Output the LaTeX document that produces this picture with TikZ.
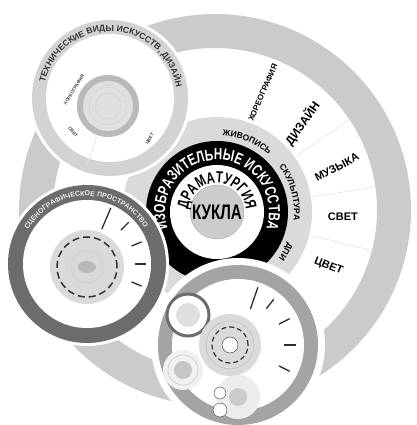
\documentclass[tikz,border=0pt]{standalone}
\usepackage{fontspec}
\setmainfont{Liberation Sans}
\newfontfamily\narrow{Liberation Sans}[FakeStretch=0.72]
\usetikzlibrary{decorations.text}

\definecolor{ringgray}{HTML}{CBCBCB}
\definecolor{palegray}{HTML}{DADADA}
\definecolor{midgray}{HTML}{A4A4A4}
\definecolor{ringdark}{HTML}{6C6C6C}

\tikzset{
  tick/.style={line width=1.3pt, gray!35!black},
  divider/.style={gray!22, line width=0.6pt},
  sector/.style={font=\bfseries\fontsize{#1}{#1}\selectfont},
  tiny/.style={font=\bfseries\fontsize{4.5}{4.5}\selectfont, gray!45!black},
}

\begin{document}
\begin{tikzpicture}[x=1pt,y=1pt]
    \useasboundingbox (0,0) rectangle (416,425);
    \coordinate (O) at (215,215);
    \coordinate (C) at (217,213);
    \coordinate (T) at (110,327);
    \coordinate (T2) at (108,319);
    \coordinate (L) at (87,161);
    \coordinate (L2) at (87,158);
    \coordinate (B) at (238,80);

    % outer ring
    \fill[ringgray, even odd rule] (O) circle[radius=196] (O) circle[radius=162];
    \foreach \a in {35,9,-14}
        \draw[divider] (C) ++(\a:96) -- ++(\a:66);
    \node[sector=8, rotate=66.5] (horeo) at ([shift={(69:128)}]C) {ХОРЕОГРАФИЯ};
    \node[sector=12, rotate=55] (dizain) at ([shift={(46:123)}]C) {ДИЗАЙН};
    \node[sector=11, rotate=28] (muzyka) at ([shift={(20.5:128)}]C) {МУЗЫКА};
    \node[sector=11] (svet) at ([shift={(-2:126)}]C) {СВЕТ};
    \node[sector=11, rotate=-22] (cvet) at ([shift={(-26:124)}]C) {ЦВЕТ};

    % centre
    \fill[palegray] (C) circle[radius=95];
    \fill[black] (C) circle[radius=71];
    \fill[white] (C) circle[radius=47];
    \draw[gray!70, fill=gray!40] (C) circle[radius=27];
    \path[decorate, decoration={text along path, text align=center, text color=white,
        text={|\narrow\bfseries\fontsize{16}{16}\selectfont|ИЗОБРАЗИТЕЛЬНЫЕ ИСКУССТВА}}]
        (C) ++(194:52) arc[start angle=194, end angle=-14, radius=52];
    \path[decorate, decoration={text along path, text align=center,
        text={|\narrow\bfseries\fontsize{16}{16}\selectfont|ДРАМАТУРГИЯ}}]
        (C) ++(182:29) arc[start angle=182, end angle=-2, radius=29];
    \node[font=\narrow\bfseries\fontsize{21}{21}\selectfont] (kukla) at (C) {КУКЛА};
    \path[decorate, decoration={text along path, text align=center,
        text={|\bfseries\fontsize{8.5}{8.5}\selectfont|ЖИВОПИСЬ}}]
        (C) ++(88:77) arc[start angle=88, end angle=46, radius=77];
    \path[decorate, decoration={text along path, text align=center,
        text={|\bfseries\fontsize{8.5}{8.5}\selectfont|СКУЛЬПТУРА}}]
        (C) ++(42:77) arc[start angle=42, end angle=-12, radius=77];
    \path[decorate, decoration={text along path, text align=center,
        text={|\bfseries\fontsize{8.5}{8.5}\selectfont|ДПИ}}]
        (C) ++(-20:77) arc[start angle=-20, end angle=-40, radius=77];

    % top left circle
    \fill[white] (T) circle[radius=81];
    \fill[ringgray!85] (T) circle[radius=78];
    \fill[white] (T) circle[radius=64];
    \path[decorate, decoration={text along path, text align=center, text color=gray!40!black,
        text={|\bfseries\fontsize{8.6}{8.6}\selectfont|ТЕХНИЧЕСКИЕ ВИДЫ ИСКУССТВ, ДИЗАЙН}}]
        (T) ++(178:67) arc[start angle=178, end angle=-2, radius=67];
    \draw[divider] (T2) ++(-110:32) -- ++(-110:31);
    \fill[gray!55] (T2) circle[radius=31];
    \fill[gray!25] (T2) circle[radius=25];
    \draw[gray!60, densely dotted] (T2) circle[radius=19] (T2) circle[radius=13];
    \node[tiny, rotate=58] (t-horeo) at (74,335) {ХОРЕОГРАФИЯ};
    \node[tiny, rotate=-50] (t-svet) at (73,293) {СВЕТ};
    \node[tiny, rotate=60] (t-cvet) at (150,286) {ЦВЕТ};

    % left circle
    \fill[white] (L) circle[radius=82];
    \fill[ringdark] (L) circle[radius=79];
    \fill[white] (L) circle[radius=64];
    \path[decorate, decoration={text along path, text align=center, text color=gray!15,
        text={|\bfseries\fontsize{7}{7}\selectfont|СЦЕНОГРАФИЧЕСКОЕ ПРОСТРАНСТВО}}]
        (L) ++(150:68) arc[start angle=150, end angle=32, radius=68];
    \draw[tick] (L) ++(67:38) -- ++(67:23);
    \foreach \a in {45,22,0,-22}
        \draw[tick] (L) ++(\a:48) -- ++(\a:11);
    \fill[palegray] (L2) circle[radius=37];
    \draw[gray!40!black, line width=1.5pt, dash pattern=on 7pt off 4pt] (L2) circle[radius=30];
    \fill[gray!30] (L2) circle[radius=22];
    \draw[gray!60, densely dotted] (L2) circle[radius=16];
    \fill[gray!55] (L2) ellipse[x radius=9, y radius=6];

    % bottom circle
    \fill[white] (B) circle[radius=87];
    \fill[midgray] (B) circle[radius=80];
    \fill[white] (B) circle[radius=66];
    \draw[tick] (B) ++(71:38) -- ++(71:23);
    \foreach \a in {52,27,0,-27}
        \draw[tick] (B) ++(\a:46) -- ++(\a:12);
    \draw[ringdark, line width=3pt, fill=white] (188,110) circle[radius=21];
    \fill[gray!25] (188,110) circle[radius=12];
    \fill[palegray] (230,80) circle[radius=31];
    \draw[gray!55] (230,80) circle[radius=24];
    \draw[gray!40!black, line width=1.2pt, dash pattern=on 5pt off 3pt] (230,80) circle[radius=18];
    \draw[gray!40!black, fill=white] (230,80) circle[radius=8];
    \fill[gray!12] (183,55) circle[radius=20];
    \draw[gray!50] (183,55) circle[radius=15];
    \fill[gray!45] (183,55) circle[radius=9];
    \fill[gray!15] (238,28) circle[radius=22];
    \fill[gray!40] (238,28) circle[radius=9];
    \draw[gray!50!black, fill=white] (220,32) circle[radius=6];
    \draw[gray!50!black, fill=white] (220,15) circle[radius=7];
\end{tikzpicture}
\end{document}
